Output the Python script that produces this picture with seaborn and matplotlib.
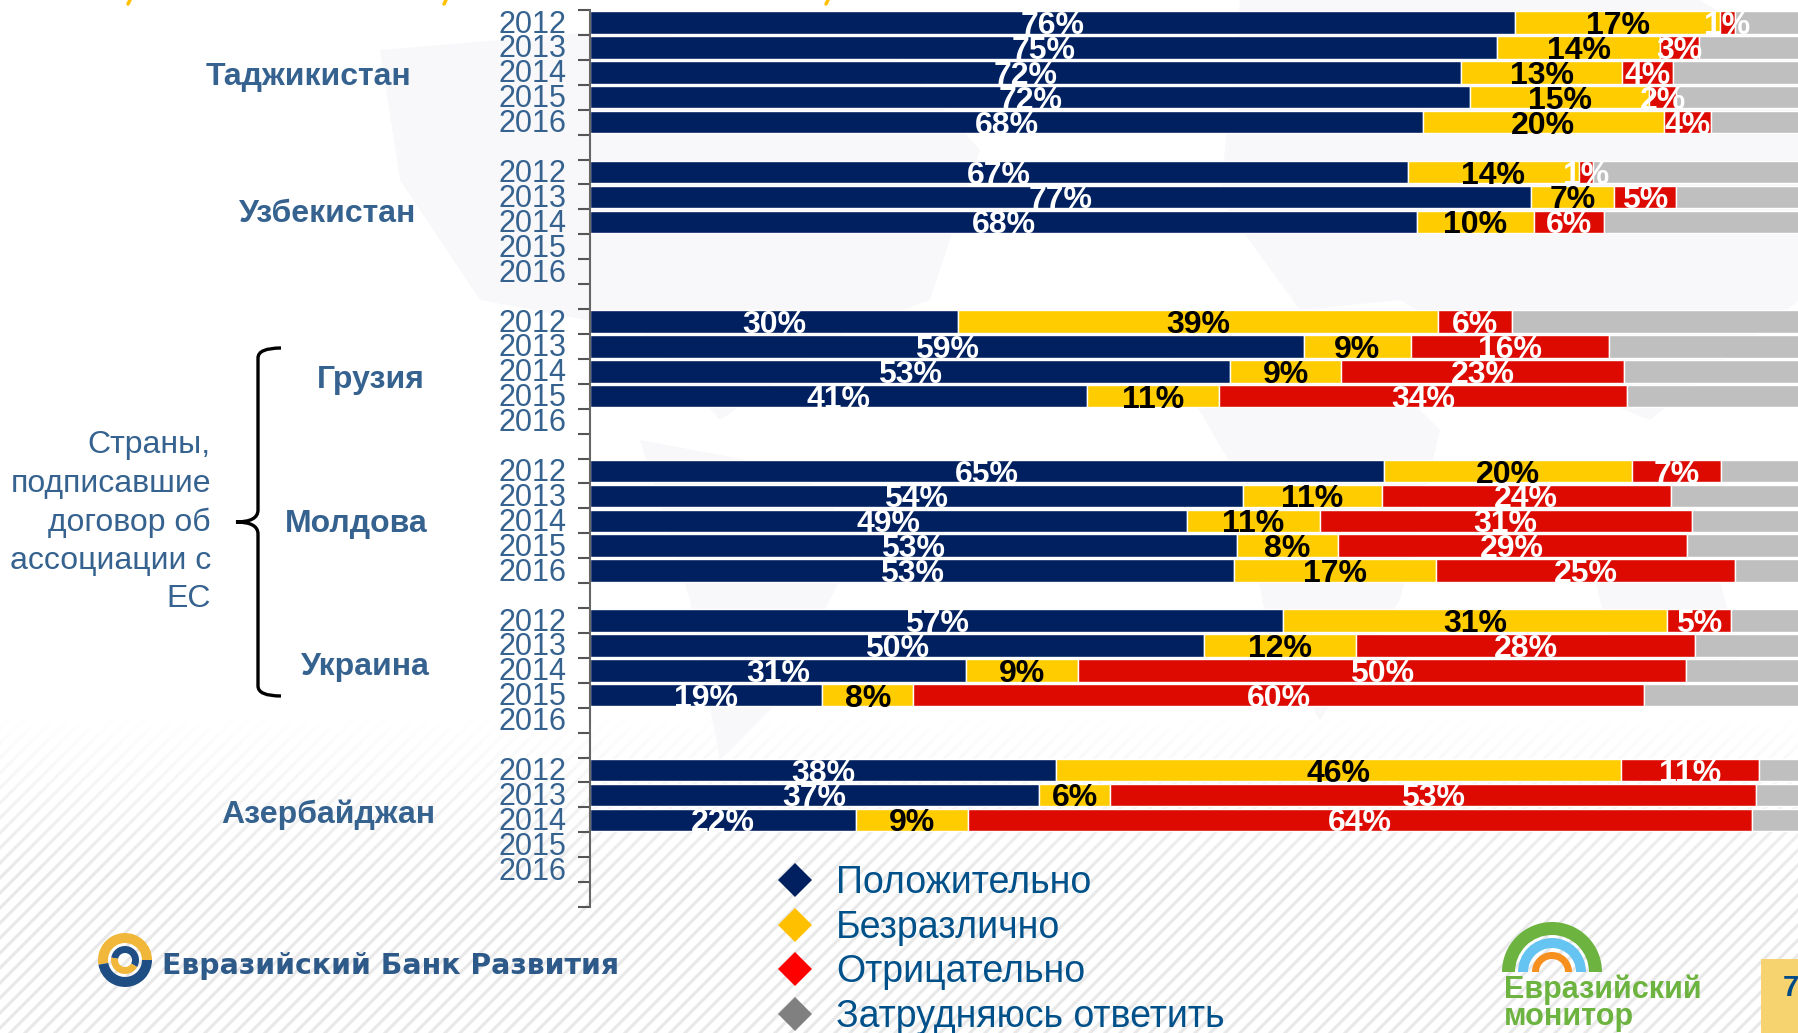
import numpy as np
import pandas as pd
import matplotlib
matplotlib.use("Agg")
import matplotlib.pyplot as plt
import matplotlib.transforms as mtrans
from matplotlib.collections import LineCollection
from matplotlib.lines import Line2D
from matplotlib.patches import Polygon, Rectangle, Wedge, PathPatch
from matplotlib.path import Path
import seaborn as sns

countries = ["Таджикистан", "Узбекистан", "Грузия", "Молдова", "Украина", "Азербайджан"]
years = ["2012", "2013", "2014", "2015", "2016"]
years_with_data = [5, 3, 4, 5, 4, 3]

positive = [76.1, 74.6, 71.6, 72.4, 68.5,
            67.3, 77.4, 68.0,
            30.3, 58.7, 52.6, 40.9,
            65.3, 53.7, 49.1, 53.2, 53.0,
            57.0, 50.5, 30.9, 19.1,
            38.3, 36.9, 21.9]
neutral = [16.8, 13.4, 13.3, 14.7, 19.8,
           14.0, 6.8, 9.6,
           39.4, 8.8, 9.2, 10.8,
           20.4, 11.4, 10.9, 8.3, 16.6,
           31.6, 12.5, 9.2, 7.5,
           46.5, 5.9, 9.2]
negative = [1.3, 3.2, 4.2, 2.2, 3.9,
            1.2, 5.1, 5.8,
            6.1, 16.3, 23.2, 33.6,
            7.3, 23.8, 30.6, 28.7, 24.6,
            5.2, 27.9, 50.0, 60.1,
            11.3, 53.1, 64.5]
unsure = [5.8, 8.8, 10.9, 10.7, 7.8,
          17.5, 10.7, 16.6,
          24.2, 16.2, 15.0, 14.7,
          7.0, 11.1, 9.4, 9.8, 5.8,
          6.2, 9.1, 9.9, 13.3,
          3.9, 4.1, 4.4]

positive_labels = [76, 75, 72, 72, 68, 67, 77, 68, 30, 59, 53, 41,
                   65, 54, 49, 53, 53, 57, 50, 31, 19, 38, 37, 22]
neutral_labels = [17, 14, 13, 15, 20, 14, 7, 10, 39, 9, 9, 11,
                  20, 11, 11, 8, 17, 31, 12, 9, 8, 46, 6, 9]
negative_labels = [1, 3, 4, 2, 4, 1, 5, 6, 6, 16, 23, 34,
                   7, 24, 31, 29, 25, 5, 28, 50, 60, 11, 53, 64]

legend_names = ["Положительно", "Безразлично", "Отрицательно", "Затрудняюсь ответить"]
bar_colors = ["#002060", "#FFCC00", "#DD0A02", "#BFBFBF"]
legend_colors = ["#002060", "#FFC000", "#FF0000", "#808080"]
blue_text = "#35628F"

W, H = 1799, 1033
sns.set_theme(style="white")
plt.rcParams["font.family"] = ["Liberation Sans", "DejaVu Sans"]

rows = []
row_labels = []
bar_rows = []
for c, n in zip(countries, years_with_data):
    for i, y in enumerate(years):
        rows.append(c + " " + y)
        row_labels.append(y)
        if i < n:
            bar_rows.append(c + " " + y)
    rows.append(c + " -")
    row_labels.append("")

df = pd.DataFrame({"row": bar_rows, "positive": positive, "neutral": neutral,
                   "negative": negative, "unsure": unsure})

fig = plt.figure(figsize=(W / 100, H / 100), dpi=100, facecolor="white")

# background layer in pixel coordinates
bg = fig.add_axes([0, 0, 1, 1], zorder=0)
bg.set_xlim(0, W)
bg.set_ylim(H, 0)
bg.axis("off")

stripes = [[(x, H + 10), (x + 420, H - 410)] for x in range(-420, W + 20, 15)]
bg.add_collection(LineCollection(stripes, colors="#E8E8E8", linewidths=2.2, zorder=1))
fade = np.ones((H, 1, 4))
fade[:, :, 3] = np.clip((880 - np.arange(H)) / 160, 0, 1)[:, None]
bg.imshow(fade, extent=(0, W, H, 0), aspect="auto", zorder=2, interpolation="bilinear")

map_blobs = [
    [(380, 50), (620, 30), (900, 60), (980, 150), (930, 300), (850, 330), (720, 420), (640, 330), (480, 300), (400, 180)],
    [(640, 440), (800, 470), (860, 540), (780, 700), (720, 760), (690, 600)],
    [(1240, 0), (1700, 0), (1799, 60), (1799, 300), (1650, 420), (1500, 360), (1400, 300), (1300, 310), (1220, 200)],
    [(1170, 360), (1350, 340), (1440, 430), (1400, 600), (1320, 720), (1270, 640), (1240, 480)],
    [(1590, 560), (1720, 580), (1740, 660), (1620, 680)],
]
for blob in map_blobs:
    bg.add_patch(Polygon(blob, closed=True, facecolor="#F8F8FB", edgecolor="none", zorder=3))

# ends of the cropped heading
for x in [129, 445, 827]:
    bg.plot([x + 1, x - 1], [0, 4], color="#FFC000", lw=2.5, zorder=4)

country_pos = [(411, 77), (416, 214), (425, 380), (428, 524), (430, 667), (435, 815)]
for name, (x, y) in zip(countries, country_pos):
    bg.text(x, y, name, color=blue_text, fontsize=23, fontweight="bold", ha="right", va="center", zorder=5)

side_lines = ["Страны,", "подписавшие", "договор об", "ассоциации с", "ЕС"]
for line, y in zip(side_lines, [445, 484, 523, 561, 599]):
    bg.text(211, y, line, color=blue_text, fontsize=23, ha="right", va="center", zorder=5)

brace = Path([(281, 348), (258, 348), (258, 358), (258, 510), (258, 522), (236, 522),
              (258, 522), (258, 534), (258, 686), (258, 696), (281, 696)],
             [Path.MOVETO, Path.CURVE3, Path.CURVE3, Path.LINETO, Path.CURVE3, Path.CURVE3,
              Path.CURVE3, Path.CURVE3, Path.LINETO, Path.CURVE3, Path.CURVE3])
bg.add_patch(PathPatch(brace, facecolor="none", edgecolor="black", lw=2.4, zorder=5))

# bank logo
for t1, t2, col, r, w in [(170, 360, "#F0B73A", 27, 10), (0, 170, "#1F4E85", 27, 10),
                          (190, 390, "#1F4E85", 14, 7), (30, 190, "#F0B73A", 14, 7)]:
    bg.add_patch(Wedge((125, 960), r, t1, t2, width=w, facecolor=col, edgecolor="none", zorder=5))
bg.text(162, 966, "Евразийский Банк Развития", color="#2E5A8A", fontsize=20.4,
        fontweight="bold", family="DejaVu Sans", ha="left", va="center", zorder=5)

# monitor logo
for r, w, col in [(50, 13, "#6CB33F"), (34, 10, "#66C4F2"), (20, 7, "#F78F1E")]:
    bg.add_patch(Wedge((1552, 972), r, 180, 360, width=w, facecolor=col, edgecolor="none", zorder=5))
bg.text(1504, 990, "Евразийский", color="#6CB33F", fontsize=22, fontweight="bold", va="center", zorder=5)
bg.text(1504, 1017, "монитор", color="#6CB33F", fontsize=22, fontweight="bold", va="center", zorder=5)

# page number
bg.add_patch(Rectangle((1761, 959), 40, 80, facecolor="#F7D36F", edgecolor="none", zorder=5))
bg.text(1783, 988, "7", color="#004A85", fontsize=21, fontweight="bold", ha="left", va="center", zorder=6)

# the chart itself
ax = fig.add_axes([590 / W, 1 - 907 / H, (W - 590) / W, (907 - 10) / H], zorder=1)
ax.patch.set_alpha(0)

left = np.zeros(len(df))
for col, color in zip(["positive", "neutral", "negative", "unsure"], bar_colors):
    sns.barplot(data=df, x=col, y="row", order=rows, orient="h", color=color, saturation=1,
                width=0.9, errorbar=None, left=left, ax=ax)
    left = left + df[col].to_numpy()

for cont, labels, color in zip(ax.containers,
                               [positive_labels, neutral_labels, negative_labels],
                               ["white", "black", "white"]):
    texts = ax.bar_label(cont, labels=[str(v) + "%" for v in labels], label_type="center",
                         color=color, fontsize=23, fontweight="bold")
    for t in texts:
        t.xyann = (0, -2.6)
        t.set_clip_on(False)

ax.set_xlim(0, (W - 590) / 12.16)
ax.set_ylim(len(rows) - 0.5, -0.5)
ax.set_xlabel("")
ax.set_ylabel("")
ax.set_xticks([])
ax.set_yticks(np.arange(len(rows)))
ax.set_yticklabels(row_labels, fontsize=22, color=blue_text)
ax.tick_params(axis="y", which="major", length=0, pad=17)
up = mtrans.ScaledTranslation(0, 1 / 72, fig.dpi_scale_trans)
for t in ax.get_yticklabels():
    t.set_transform(t.get_transform() + up)
ax.set_yticks(np.arange(len(rows) + 1) - 0.5, minor=True)
ax.tick_params(axis="y", which="minor", left=True, length=9, width=1.5, color="#555555")
sns.despine(ax=ax, top=True, right=True, bottom=True)
ax.spines["left"].set_color("#666666")
ax.spines["left"].set_linewidth(1.5)

handles = [Line2D([], [], linestyle="none", marker="D", markersize=17, color=c, markeredgewidth=0)
           for c in legend_colors]
fig.legend(handles, legend_names, loc="upper left", bbox_to_anchor=(776 / W, 1 - 865 / H),
           frameon=False, fontsize=27, labelcolor="#00508A", borderpad=0, borderaxespad=0,
           handletextpad=0.6, labelspacing=0.23, handlelength=1.0)

fig.savefig("out.png", dpi=100)
